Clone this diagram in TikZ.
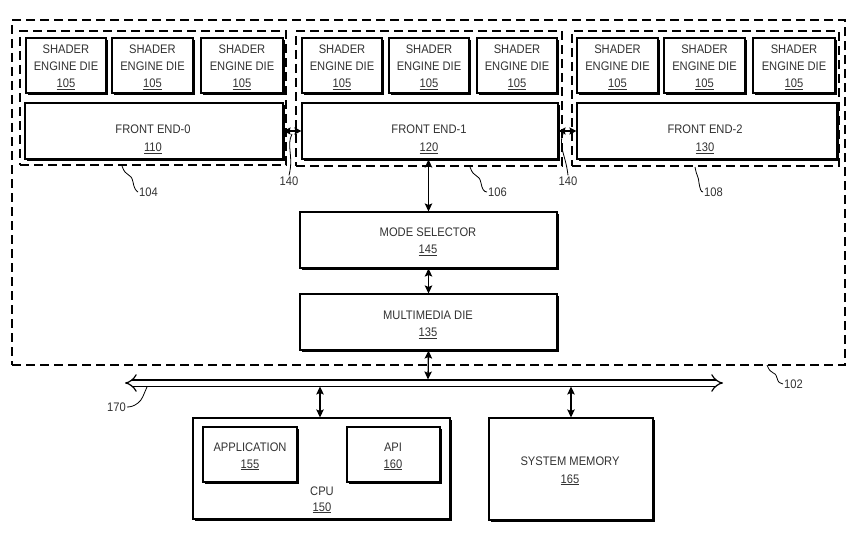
\documentclass[tikz,border=0pt]{standalone}
\usepackage{fontspec}
\setmainfont{Liberation Sans}[FakeStretch=0.9]
\usetikzlibrary{arrows.meta,shadows,fit}
\newcommand\labfont{\fontsize{12.4}{17}\selectfont}
% two text lines on given baselines
\newcommand\twoL[6]{\node[tl] (#1a) at (#2,#3) {#5}; \node[tl] (#1b) at (#2,#4) {#6};}
% shader engine die box
\newcommand\shader[3]{%
  \node[box, fit={(#2,38)(#3,93)}] (#1) {};
  \node[tl] (#1a) at ({(#2+#3)/2},54) {SHADER};
  \node[tl] (#1b) at ({(#2+#3)/2},70.7) {ENGINE DIE};
  \node[tl] (#1c) at ({(#2+#3)/2},87.3) {\underline{105}};}
\begin{document}
\begin{tikzpicture}[x=1pt,y=-1pt,
 box/.style={draw=black, line width=1.1pt, fill=white,
   drop shadow={shadow xshift=1.8pt,shadow yshift=-1.8pt,fill=black,opacity=1},
   inner sep=0pt},
 tl/.style={anchor=base, inner sep=0pt, font=\labfont, text=black!80},
 grp/.style={draw=black, line width=1.3pt, dash pattern=on 9pt off 5pt, inner sep=0pt},
 arr/.style={line width=1.3pt, {Stealth[length=8pt,width=7.5pt,inset=1.5pt]}-{Stealth[length=8pt,width=7.5pt,inset=1.5pt]}},
 sarr/.style={line width=1.1pt, {Stealth[length=7pt,width=7pt,inset=1pt]}-{Stealth[length=7pt,width=7pt,inset=1pt]}},
 lead/.style={line width=0.8pt},
 num/.style={font=\labfont, inner sep=1pt, text=black!80}
]
\useasboundingbox (0,0) rectangle (864,535);

% dashed groups
\node[grp, fit={(12,20)(845,365)}] (g102) {};
\node[grp, fit={(20,31)(286,165)}] (g104) {};
\node[grp, fit={(296,31)(562,166)}] (g106) {};
\node[grp, fit={(572,31)(839,166)}] (g108) {};

% shader engine dies
\shader{s1}{26}{106}
\shader{s2}{112}{193}
\shader{s3}{201}{283}
\shader{s4}{302}{382}
\shader{s5}{389}{469}
\shader{s6}{477}{557}
\shader{s7}{577}{658}
\shader{s8}{664}{745}
\shader{s9}{753}{835}

% front ends
\node[box, fit={(25,103)(283,159)}] (fe0) {};
\node[box, fit={(302,103)(558,159)}] (fe1) {};
\node[box, fit={(577,103)(837,159)}] (fe2) {};
\twoL{fe0t}{153}{133.3}{151.7}{FRONT END-0}{\underline{110}}
\twoL{fe1t}{429}{133.3}{151.7}{FRONT END-1}{\underline{120}}
\twoL{fe2t}{705}{133.3}{151.7}{FRONT END-2}{\underline{130}}

% mode selector, multimedia
\node[box, fit={(300,212)(557,268)}] (ms) {};
\twoL{mst}{428}{236}{253.3}{MODE SELECTOR}{\underline{145}}
\node[box, fit={(300,294)(557,350)}] (mm) {};
\twoL{mmt}{428}{319.3}{336.7}{MULTIMEDIA DIE}{\underline{135}}

% CPU and memory
\node[box, fit={(193,418)(450,519)}] (cpu) {};
\twoL{cput}{322}{495}{511}{CPU}{\underline{150}}
\node[box, fit={(203,427)(297,482)}] (app) {};
\twoL{appt}{250}{451}{468}{APPLICATION}{\underline{155}}
\node[box, fit={(347,427)(440,482)}] (api) {};
\twoL{apit}{393}{451}{468}{API}{\underline{160}}
\node[box, fit={(489,418)(653,520)}] (sm) {};
\twoL{smt}{570}{465.7}{483}{SYSTEM MEMORY}{\underline{165}}

% bus
\coordinate (busL) at (125,383);
\coordinate (busR) at (723,383);
\draw[line width=1.2pt, double=white, double distance=5pt, {Implies}-{Implies}] (busL) -- (busR);
\coordinate (b1) at (428,379.5);
\coordinate (b2) at (320,386.5);
\coordinate (b3) at (571,386.5);

% connectors
\draw[sarr] (fe0.east) -- (fe1.west);
\draw[sarr] (fe1.east) -- (fe2.west);
\draw[arr] (ms.north |- fe1.south) -- (ms.north);
\draw[arr] (ms.south) -- (mm.north);
\draw[arr] (mm.south) -- (b1);
\draw[arr] (b2) -- (b2 |- cpu.north);
\draw[arr] (b3) -- (sm.north);

% reference labels
\node[num, anchor=west] (l104) at (138,192) {104};
\draw[lead] (122,166) .. controls (126,178) and (131,172) .. (133,182) .. controls (134,188) and (136,191) .. (l104.west);
\node[num] (l140a) at (289,181) {140};
\draw[lead] (292,134) .. controls (286,146) and (294,156) .. (l140a.north);
\node[num, anchor=west] (l106) at (487,192) {106};
\draw[lead] (470,167) .. controls (474,179) and (479,173) .. (481,183) .. controls (482,189) and (484,192) .. (l106.west);
\node[num] (l140b) at (568,181) {140};
\draw[lead] (563,134) .. controls (558,146) and (566,156) .. (l140b.north);
\node[num, anchor=west] (l108) at (703,192) {108};
\draw[lead] (695,167) .. controls (697,178) and (698,174) .. (699,183) .. controls (700,189) and (701,192) .. (l108.west);
\node[num, anchor=west] (l102) at (783,384) {102};
\draw[lead] (767,365) .. controls (771,376) and (775,370) .. (777,378) .. controls (778,382) and (780,384) .. (l102.west);
\node[num, anchor=east] (l170) at (127,407) {170};
\draw[lead] (147,387) .. controls (143,396) and (142,400) .. (138,403) .. controls (134,406) and (131,407) .. (l170.east);
\end{tikzpicture}
\end{document}
